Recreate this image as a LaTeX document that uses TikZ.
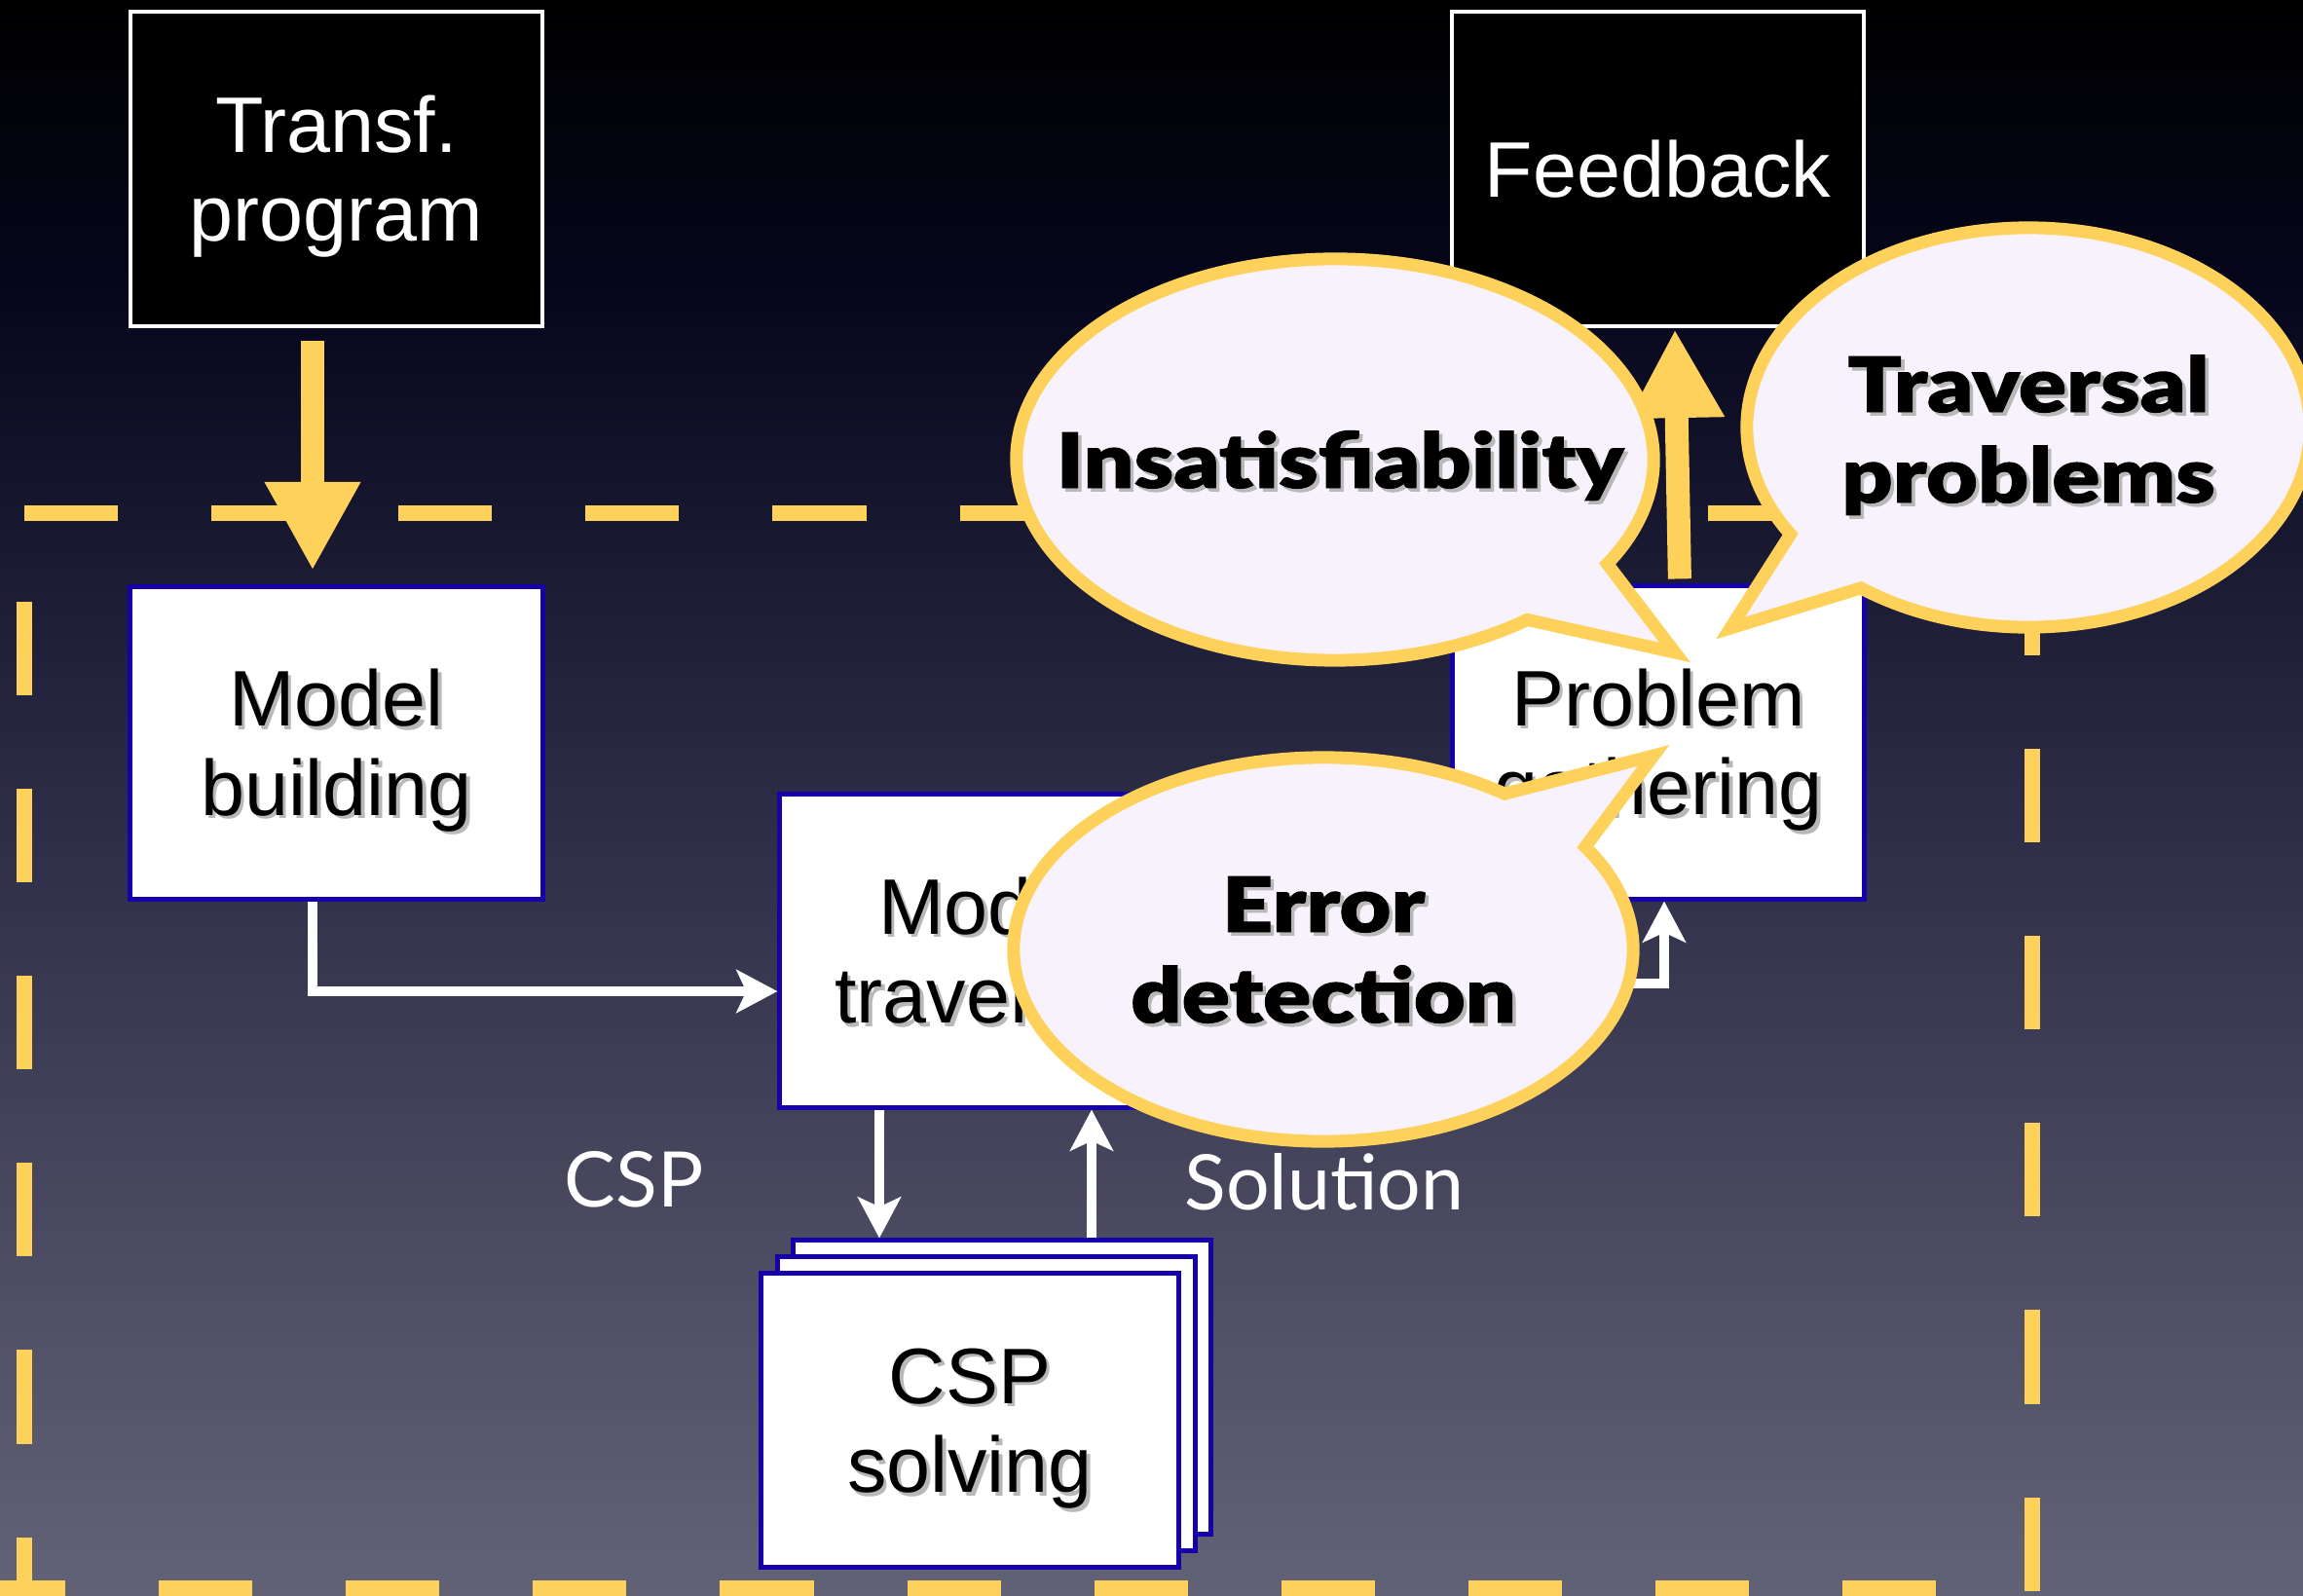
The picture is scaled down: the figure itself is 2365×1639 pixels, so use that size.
\documentclass[tikz,border=0pt]{standalone}
\usepackage{fontspec}
\setmainfont{Liberation Sans}
\newfontfamily\labelfont{Lato}
\newfontfamily\bubblefont{Lato Black}[FakeStretch=1.17, FakeBold=1.2]
\usetikzlibrary{arrows.meta,calc}

\definecolor{boxblue}{RGB}{22,0,170}
\definecolor{flowyellow}{RGB}{254,209,90}
\definecolor{bubblefill}{RGB}{247,242,252}
\definecolor{bgA}{RGB}{0,0,0}
\definecolor{bgB}{RGB}{6,6,28}
\definecolor{bgC}{RGB}{43,42,69}
\definecolor{bgD}{RGB}{94,94,114}
\definecolor{bgE}{RGB}{98,98,118}

% the picture spans 25bp..75bp of the shading
\pgfdeclareverticalshading{slidebg}{100bp}{color(0bp)=(bgE); color(25bp)=(bgE); color(27.4bp)=(bgD); color(50.6bp)=(bgC); color(65.85bp)=(bgB); color(75bp)=(bgA); color(100bp)=(bgA)}

% text with a soft drop shadow
\newcommand\shd[1]{\makebox[0pt][l]{\kern1pt\raisebox{-1pt}{\textcolor{black!28}{#1}}}#1}

\tikzset{
  darkbox/.style={draw=white, line width=0.04cm, fill=black, text=white,
    minimum width=4.23cm, minimum height=3.23cm, inner sep=0pt, align=center,
    font=\fontsize{23}{26}\selectfont},
  lightbox/.style={draw=boxblue, line width=0.05cm, fill=white, text=black,
    minimum width=4.23cm, minimum height=3.21cm, inner sep=0pt, align=center,
    font=\fontsize{23}{26}\selectfont},
  twolines/.style={text height=42.1pt, text depth=0pt},
  stackbox/.style={lightbox, minimum width=4.28cm, minimum height=3.01cm},
  ydash/.style={draw=flowyellow, line width=0.16cm, dash pattern=on 0.96cm off 0.96cm},
  yarrow/.style={draw=flowyellow, line width=0.24cm,
    -{Triangle[width=0.92cm, length=0.91cm]}},
  warrow/.style={draw=white, line width=0.10cm,
    -{Stealth[width=0.44cm, length=0.42cm, inset=0.1cm]}},
  bubble/.style={draw=flowyellow, fill=bubblefill, line width=0.13cm, line join=miter},
  bubbletext/.style={inner sep=0pt, text=black, font=\bubblefont\fontsize{22.2}{26}\selectfont},
  flowlabel/.style={inner sep=0pt, text=white, font=\labelfont\fontsize{22.4}{26}\selectfont},
}

\begin{document}
\begin{tikzpicture}[x=0.01cm, y=-0.01cm]
  % background
  \shade[shading=slidebg] (0,0) rectangle (2365,1639);
  \useasboundingbox (0,0) rectangle (2365,1639);

  % dashed frame of the checking stage
  \draw[ydash] (25,527) -- (2094,527);
  \draw[ydash] (25,618) -- (25,1660);
  \draw[ydash] (2087,577) -- (2087,1660);
  \draw[ydash] (-29,1631) -- (2079,1631);

  % process boxes
  \node[darkbox, twolines] (transf) at (345.5,173.5) {Transf.\\program};
  \node[darkbox] (feedback) at (1702.5,173.5) {Feedback};
  \node[lightbox, twolines] (building) at (345.5,763) {\shd{Model}\\\shd{building}};
  \node[lightbox, twolines] (gathering) at (1703,762.5) {\shd{Problem}\\\shd{gathering}};
  \node[lightbox, twolines] (traversal) at (1012.5,976.5) {\shd{Model}\\\shd{traversal}};
  \node[stackbox] (cspback) at (1029,1424.5) {};
  \node[stackbox] (cspmid) at (1013,1441.5) {};
  \node[stackbox, twolines] (cspfront) at (996,1458.5) {\shd{CSP}\\\shd{solving}};

  % white data flow
  \draw[warrow] (building.south -| 321,0) |- (traversal.west |- 0,1018);
  \draw[warrow] (traversal.east |- 0,1010) -| (gathering.south -| 1709,0);
  \draw[warrow] (traversal.south -| 903,0) -- (cspback.north -| 903,0);
  \draw[warrow] (cspback.north -| 1121,0) -- (traversal.south -| 1121,0);
  \node[flowlabel] (csplabel) at (651,1211) {CSP};
  \node[flowlabel] (sollabel) at (1360,1214) {Solution};

  % input and output of the stage
  \draw[yarrow, shorten <=0.13cm, shorten >=0.14cm] (transf.south -| 321,0) -- (building.north -| 321,0);
  \draw[yarrow, shorten <=0.05cm, shorten >=0.01cm] (gathering.north -| 1725,0) -- (feedback.south -| 1720,0);

  % callouts
  \filldraw[bubble] (1371,472) ++(-31.3:3.27cm and 2.06cm)
    arc[start angle=-31.3, end angle=307.1, x radius=3.27cm, y radius=2.06cm]
    -- (1720,670) -- cycle;
  \node[bubbletext, anchor=base] (insat) at (1376,501) {\shd{Insatisfiability}};

  \filldraw[bubble] (2083,439) ++(233.5:2.89cm and 2.05cm)
    arc[start angle=233.5, end angle=572.3, x radius=2.89cm, y radius=2.05cm]
    -- (1777,645) -- cycle;
  \node[bubbletext, anchor=base] (trav1) at (2083,423) {\shd{Traversal}};
  \node[bubbletext, anchor=base] (trav2) at (2083,516) {\shd{problems}};

  \filldraw[bubble] (1359,975) ++(54.2:3.18cm and 1.97cm)
    arc[start angle=54.2, end angle=392.3, x radius=3.18cm, y radius=1.97cm]
    -- (1698,776) -- cycle;
  \node[bubbletext, anchor=base] (err1) at (1359,957) {\shd{Error}};
  \node[bubbletext, anchor=base] (err2) at (1359,1050) {\shd{detection}};
\end{tikzpicture}
\end{document}
